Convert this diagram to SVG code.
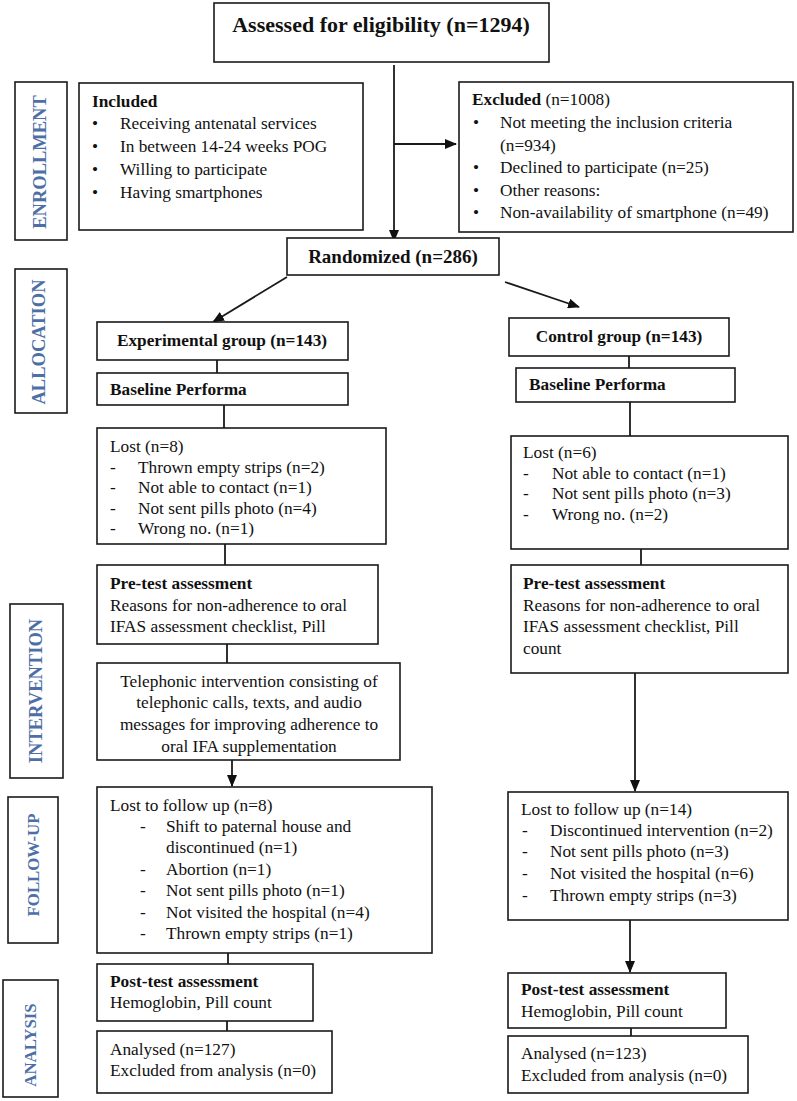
<svg xmlns="http://www.w3.org/2000/svg" width="797" height="1101" viewBox="0 0 797 1101">
<style>
rect.b{fill:#fff;stroke:#1a1a1a;stroke-width:1.6}
text{font-family:"Liberation Serif","Times New Roman",serif;font-size:17.3px;fill:#111}
.bd{font-weight:bold}
.c{text-anchor:middle}
.lab{font-weight:bold;fill:#4e6fa6;text-anchor:middle}
text.l1{font-size:18.5px}
text.l2{font-size:16.8px}
text.t{font-size:22px}
text.r{font-size:19px}
line.k{stroke:#1a1a1a;stroke-width:1.8}
</style>
<defs>
<marker id="ah" markerUnits="userSpaceOnUse" markerWidth="12" markerHeight="10" refX="11" refY="5" orient="auto">
<path d="M0,0 L12,5 L0,10 Z" fill="#111"/>
</marker>
</defs>
<rect width="797" height="1101" fill="#fff"/>

<g id="connectors">
<line class="k" x1="394" y1="65" x2="394" y2="241" marker-end="url(#ah)"/>
<line class="k" x1="394" y1="144" x2="456" y2="144" marker-end="url(#ah)"/>
<line class="k" x1="287" y1="277" x2="213" y2="322" marker-end="url(#ah)"/>
<line class="k" x1="505" y1="282" x2="579" y2="307" marker-end="url(#ah)"/>
<line class="k" x1="217" y1="360" x2="217" y2="373"/>
<line class="k" x1="224" y1="405" x2="224" y2="428"/>
<line class="k" x1="225" y1="544" x2="225" y2="565"/>
<line class="k" x1="227" y1="644" x2="227" y2="663"/>
<line class="k" x1="232" y1="760" x2="232" y2="786" marker-end="url(#ah)"/>
<line class="k" x1="228" y1="953" x2="228" y2="964"/>
<line class="k" x1="227" y1="1021" x2="227" y2="1031"/>
<line class="k" x1="629" y1="356" x2="629" y2="368"/>
<line class="k" x1="630" y1="402" x2="630" y2="436"/>
<line class="k" x1="641" y1="549" x2="641" y2="565"/>
<line class="k" x1="635" y1="673" x2="635" y2="791" marker-end="url(#ah)"/>
<line class="k" x1="630" y1="920" x2="630" y2="972" marker-end="url(#ah)"/>
<line class="k" x1="631" y1="1028" x2="631" y2="1036"/>
</g>

<g id="label-enrollment"><rect class="b" x="15" y="82" width="52" height="158"/><text class="lab l1" transform="translate(46,162) rotate(-90)">ENROLLMENT</text></g>
<g id="label-allocation"><rect class="b" x="15" y="269" width="52" height="144"/><text class="lab l1" transform="translate(45,342) rotate(-90)">ALLOCATION</text></g>
<g id="label-intervention"><rect class="b" x="10" y="604" width="53" height="174"/><text class="lab l1" transform="translate(42,691) rotate(-90)">INTERVENTION</text></g>
<g id="label-followup"><rect class="b" x="8" y="797" width="50" height="146"/><text class="lab l2" transform="translate(39,865) rotate(-90)">FOLLOW-UP</text></g>
<g id="label-analysis"><rect class="b" x="3" y="980" width="55" height="117"/><text class="lab l2" transform="translate(36,1045) rotate(-90)">ANALYSIS</text></g>

<g id="assessed"><rect class="b" x="214" y="3" width="335" height="59"/><text class="bd c t" x="381" y="32">Assessed for eligibility (n=1294)</text></g>

<g id="included"><rect class="b" x="79" y="83" width="284" height="147"/>
<text class="bd" x="92" y="107">Included</text>
<text x="92" y="129">•</text><text x="120" y="129">Receiving antenatal services</text>
<text x="92" y="152">•</text><text x="120" y="152">In between 14-24 weeks POG</text>
<text x="92" y="175">•</text><text x="120" y="175">Willing to participate</text>
<text x="92" y="198">•</text><text x="120" y="198">Having smartphones</text>
</g>

<g id="excluded"><rect class="b" x="459" y="82" width="334" height="150"/>
<text x="472" y="105"><tspan class="bd">Excluded</tspan> (n=1008)</text>
<text x="473" y="128">•</text><text x="500" y="128">Not meeting the inclusion criteria</text>
<text x="500" y="151">(n=934)</text>
<text x="473" y="173">•</text><text x="500" y="173">Declined to participate (n=25)</text>
<text x="473" y="196">•</text><text x="500" y="196">Other reasons:</text>
<text x="473" y="218">•</text><text x="500" y="218">Non-availability of smartphone (n=49)</text>
</g>

<g id="randomized"><rect class="b" x="287" y="238" width="212" height="37"/><text class="bd c r" x="393" y="263">Randomized (n=286)</text></g>

<g id="exp-group"><rect class="b" x="97" y="322" width="251" height="38"/><text class="bd c" x="222" y="346">Experimental group (n=143)</text></g>
<g id="exp-baseline"><rect class="b" x="97" y="373" width="251" height="32"/><text class="bd" x="110" y="395">Baseline Performa</text></g>
<g id="exp-lost"><rect class="b" x="97" y="428" width="289" height="116"/>
<text x="110" y="452">Lost (n=8)</text>
<text x="110" y="472.5">-</text><text x="138" y="472.5">Thrown empty strips (n=2)</text>
<text x="110" y="493">-</text><text x="138" y="493">Not able to contact (n=1)</text>
<text x="110" y="513.5">-</text><text x="138" y="513.5">Not sent pills photo (n=4)</text>
<text x="110" y="534">-</text><text x="138" y="534">Wrong no. (n=1)</text>
</g>
<g id="exp-pretest"><rect class="b" x="97" y="565" width="281" height="79"/>
<text class="bd" x="110" y="589">Pre-test assessment</text>
<text x="110" y="611">Reasons for non-adherence to oral</text>
<text x="110" y="632">IFAS assessment checklist, Pill</text>
</g>
<g id="exp-intervention"><rect class="b" x="97" y="663" width="303" height="97"/>
<text class="c" x="249" y="687">Telephonic intervention consisting of</text>
<text class="c" x="249" y="708">telephonic calls, texts, and audio</text>
<text class="c" x="249" y="730">messages for improving adherence to</text>
<text class="c" x="249" y="752">oral IFA supplementation</text>
</g>
<g id="exp-followup"><rect class="b" x="97" y="787" width="335" height="166"/>
<text x="110" y="811">Lost to follow up (n=8)</text>
<text x="140" y="832">-</text><text x="166" y="832">Shift to paternal house and</text>
<text x="166" y="853">discontinued (n=1)</text>
<text x="140" y="875">-</text><text x="166" y="875">Abortion (n=1)</text>
<text x="140" y="896">-</text><text x="166" y="896">Not sent pills photo (n=1)</text>
<text x="140" y="918">-</text><text x="166" y="918">Not visited the hospital (n=4)</text>
<text x="140" y="939">-</text><text x="166" y="939">Thrown empty strips (n=1)</text>
</g>
<g id="exp-posttest"><rect class="b" x="97" y="964" width="216" height="57"/>
<text class="bd" x="110" y="987">Post-test assessment</text>
<text x="110" y="1008">Hemoglobin, Pill count</text>
</g>
<g id="exp-analysed"><rect class="b" x="97" y="1031" width="235" height="62"/>
<text x="110" y="1055">Analysed (n=127)</text>
<text x="110" y="1076">Excluded from analysis (n=0)</text>
</g>

<g id="ctl-group"><rect class="b" x="509" y="318" width="220" height="38"/><text class="bd c" x="619" y="342">Control group (n=143)</text></g>
<g id="ctl-baseline"><rect class="b" x="516" y="368" width="219" height="34"/><text class="bd" x="529" y="390">Baseline Performa</text></g>
<g id="ctl-lost"><rect class="b" x="511" y="436" width="277" height="113"/>
<text x="523" y="458">Lost (n=6)</text>
<text x="523" y="479">-</text><text x="552" y="479">Not able to contact (n=1)</text>
<text x="523" y="499">-</text><text x="552" y="499">Not sent pills photo (n=3)</text>
<text x="523" y="520">-</text><text x="552" y="520">Wrong no. (n=2)</text>
</g>
<g id="ctl-pretest"><rect class="b" x="511" y="565" width="277" height="108"/>
<text class="bd" x="523" y="589">Pre-test assessment</text>
<text x="523" y="611">Reasons for non-adherence to oral</text>
<text x="523" y="632">IFAS assessment checklist, Pill</text>
<text x="523" y="654">count</text>
</g>
<g id="ctl-followup"><rect class="b" x="508" y="792" width="280" height="128"/>
<text x="521" y="815">Lost to follow up (n=14)</text>
<text x="522" y="836">-</text><text x="550" y="836">Discontinued intervention (n=2)</text>
<text x="522" y="857">-</text><text x="550" y="857">Not sent pills photo (n=3)</text>
<text x="522" y="879">-</text><text x="550" y="879">Not visited the hospital (n=6)</text>
<text x="522" y="901">-</text><text x="550" y="901">Thrown empty strips (n=3)</text>
</g>
<g id="ctl-posttest"><rect class="b" x="508" y="973" width="218" height="55"/>
<text class="bd" x="521" y="995">Post-test assessment</text>
<text x="521" y="1017">Hemoglobin, Pill count</text>
</g>
<g id="ctl-analysed"><rect class="b" x="508" y="1036" width="240" height="57"/>
<text x="521" y="1059">Analysed (n=123)</text>
<text x="521" y="1081">Excluded from analysis (n=0)</text>
</g>
</svg>
